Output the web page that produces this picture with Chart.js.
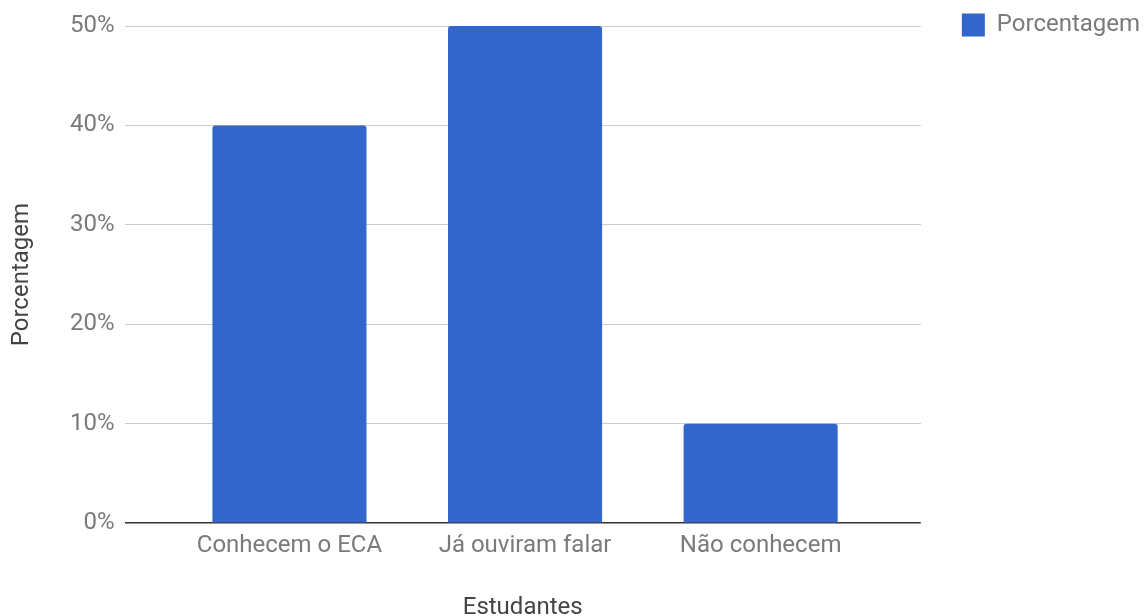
<!DOCTYPE html>
<html>
<head>
<meta charset="utf-8">
<script src="https://cdn.jsdelivr.net/npm/chart.js@4.4.1/dist/chart.umd.min.js"></script>
<style>
  body { margin: 0; background: #fff; }
  #wrap { width: 1145px; height: 616px; }
</style>
</head>
<body>
<div id="wrap"><canvas id="bar-chart" width="1145" height="616"></canvas></div>
<script>
// Data
const categories = ['Conhecem o ECA', 'Já ouviram falar', 'Não conhecem'];
const percentages = [40, 50, 10];
const yTickValues = [0, 10, 20, 30, 40, 50];
const seriesName = 'Porcentagem';
const xTitle = 'Estudantes';
const yTitle = 'Porcentagem';

const grey = '#7a7a7a';
const font = { family: 'Roboto', size: 24 };

// bars sit on a linear x scale so the plot keeps Google-style side padding
const points = categories.map((c, i) => ({ x: i, y: percentages[i] }));

new Chart(document.getElementById('bar-chart'), {
  type: 'bar',
  data: {
    datasets: [{
      label: seriesName,
      data: points,
      backgroundColor: '#3366cc',
      borderWidth: 0,
      borderRadius: { topLeft: 3, topRight: 3 },
      borderSkipped: 'bottom',
      barPercentage: 0.654,
      categoryPercentage: 1
    }]
  },
  options: {
    responsive: false,
    animation: false,
    layout: { padding: { top: 7, right: -2, bottom: -4, left: 0 } },
    plugins: {
      // blank title only reserves room above the plot
      title: { display: true, text: ' ', font: { size: 10, lineHeight: 1.9 }, padding: 0 },
      tooltip: { enabled: false },
      legend: {
        position: 'right',
        align: 'start',
        labels: {
          boxWidth: 23,
          boxHeight: 23,
          padding: 6,
          color: grey,
          font: font
        }
      }
    },
    scales: {
      x: {
        type: 'linear',
        offset: false,
        min: -0.7,
        max: 2.68,
        afterBuildTicks: (scale) => {
          scale.ticks = categories.map((c, i) => ({ value: i }));
        },
        ticks: {
          color: grey,
          font: font,
          padding: 8,
          maxRotation: 0,
          autoSkip: false,
          callback: (v) => categories[v]
        },
        grid: { display: false, drawTicks: false, offset: false },
        border: { display: false },
        title: {
          display: true,
          text: xTitle,
          color: '#444',
          font: { family: 'Roboto', size: 24, lineHeight: 1 },
          padding: { top: 28, bottom: 0 }
        }
      },
      y: {
        min: 0,
        max: 50,
        afterBuildTicks: (scale) => {
          scale.ticks = yTickValues.map((v) => ({ value: v }));
        },
        ticks: {
          color: grey,
          font: font,
          padding: 10,
          callback: (v) => v + '%'
        },
        grid: {
          drawTicks: false,
          color: (ctx) => (ctx.tick && ctx.tick.value === 0 ? '#333333' : '#cccccc'),
          lineWidth: (ctx) => (ctx.tick && ctx.tick.value === 0 ? 1.5 : 1)
        },
        border: { display: false },
        title: {
          display: true,
          text: yTitle,
          color: '#444',
          font: { family: 'Roboto', size: 24, lineHeight: 1 },
          padding: { top: 10, bottom: 26 }
        }
      },
      // empty axis that keeps the gap between plot and legend
      gap: {
        type: 'linear',
        position: 'right',
        display: true,
        grid: { display: false, drawTicks: false },
        ticks: { display: false },
        border: { display: false },
        afterFit: (scale) => { scale.width = 35; }
      }
    }
  }
});
</script>
</body>
</html>
